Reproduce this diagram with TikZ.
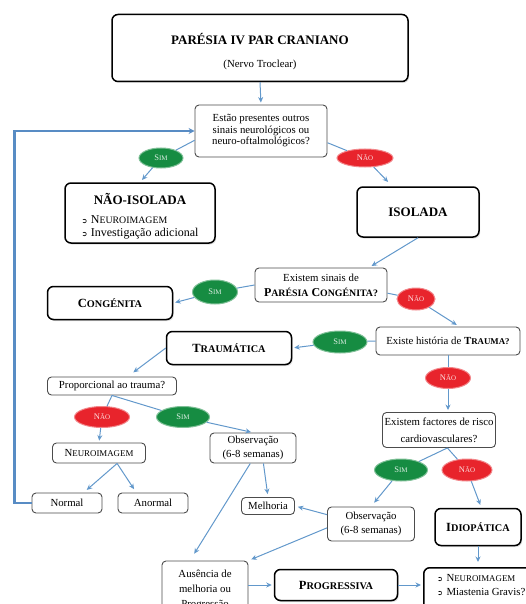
\documentclass[tikz,border=0pt]{standalone}
\usepackage{fontspec}
\setmainfont{Liberation Serif}
\newfontfamily\symfont{DejaVu Sans}
\usetikzlibrary{arrows.meta,shapes.geometric,shadows,calc}

% fake small capitals: first letter full size, the rest reduced
\makeatletter
\newcommand\fsc[2]{#1{\fontsize{\strip@pt\dimexpr0.82\dimexpr\f@size pt\relax\relax}{\the\baselineskip}\selectfont #2}}
\makeatother
\newcommand\bul{{\symfont\fontsize{7}{7}\selectfont ➲}\hspace{3.5pt}}

\definecolor{linkblue}{RGB}{98,152,203}
\definecolor{loopblue}{RGB}{88,140,196}
\definecolor{simgreen}{RGB}{22,140,66}
\definecolor{naored}{RGB}{232,36,44}

\tikzset{
  hbox/.style={draw=black, line width=1.5pt, rounded corners=6pt, fill=white,
    align=center, inner sep=0pt,
    drop shadow={opacity=0.25, shadow xshift=1.2pt, shadow yshift=-1.5pt}},
  qbox/.style={draw=black!70, line width=0.9pt, rounded corners=4pt, fill=white,
    align=center, inner sep=0pt, font=\fontsize{10.8}{14}\selectfont},
  yes/.style={ellipse, fill=simgreen, draw=simgreen!55!white, line width=1pt,
    inner sep=0pt, text=white!85!simgreen, font=\fontsize{8.5}{9}\selectfont},
  no/.style={ellipse, fill=naored, draw=naored!55!white, line width=1pt,
    inner sep=0pt, text=white!85!naored, font=\fontsize{8.5}{9}\selectfont},
  conn/.style={draw=linkblue, line width=1pt},
  arr/.style={conn, -{Stealth[length=5.5pt, width=5pt]}, shorten >=2pt},
  backloop/.style={draw=loopblue, line width=2.4pt, -{Stealth[length=6pt, width=6pt]}},
  headfont/.style={font=\fontsize{12.5}{14}\selectfont\bfseries},
}

\begin{document}
\begin{tikzpicture}[x=1pt, y=-1pt]
\useasboundingbox (0,0) rectangle (526,604);
\clip (0,0) rectangle (526,604);

% ---- boxes ----
\node[hbox, minimum width=296pt, minimum height=67pt] (top) at (260,48) {};
\node[align=center, inner sep=0pt, font=\fontsize{13}{23}\selectfont] (toptext) at (260,52)
  {\bfseries PARÉSIA IV PAR CRANIANO\\
   \fontsize{10.8}{23}\selectfont\mdseries (Nervo Troclear)};

\node[qbox, minimum width=132pt, minimum height=52pt, font=\fontsize{10.8}{11.5}\selectfont] (q1) at (261,131)
  {Estão presentes outros\\ sinais neurológicos ou\\ neuro-oftalmológicos?};

\node[hbox, minimum width=150pt, minimum height=60pt] (naoiso) at (140,213) {};
\node[inner sep=0pt, font=\fontsize{12}{13}\selectfont] (naoisotext) at (140,217)
  {\begin{tabular}{@{}l@{}}
    \multicolumn{1}{@{}c@{}}{\fontsize{13}{14}\selectfont\bfseries NÃO-ISOLADA}\\[6pt]
    \bul\fsc{N}{EUROIMAGEM}\\[0pt]
    \bul Investigação adicional
   \end{tabular}};

\node[hbox, minimum width=122pt, minimum height=50pt, font=\fontsize{13}{14}\selectfont\bfseries] (iso) at (418,212) {ISOLADA};

\node[qbox, minimum width=132pt, minimum height=34pt, font=\fontsize{10.8}{15}\selectfont] (q2) at (321,285)
  {Existem sinais de\\ {\fontsize{12}{15}\selectfont\bfseries\fsc{P}{ARÉSIA} \fsc{C}{ONGÉNITA?}}};

\node[hbox, minimum width=125pt, minimum height=33pt, headfont] (cong) at (110,303) {\fsc{C}{ONGÉNITA}};

\node[qbox, minimum width=144pt, minimum height=28pt] (q3) at (448,341)
  {Existe história de \textbf{\fsc{T}{RAUMA?}}};

\node[hbox, minimum width=125pt, minimum height=33pt, headfont] (traum) at (229,348) {\fsc{T}{RAUMÁTICA}};

\node[qbox, minimum width=129pt, minimum height=18pt] (prop) at (112,386) {Proporcional ao trauma?};

\node[qbox, minimum width=93pt, minimum height=20pt] (neuro) at (99,453) {\fsc{N}{EUROIMAGEM}};
\node[qbox, minimum width=70pt, minimum height=20pt] (normal) at (67,503) {Normal};
\node[qbox, minimum width=70pt, minimum height=20pt] (anormal) at (153,503) {Anormal};

\node[qbox, minimum width=86pt, minimum height=30pt] (obs1) at (253,448) {Observação\\(6-8 semanas)};
\node[qbox, minimum width=53pt, minimum height=17pt] (melhoria) at (268,506) {Melhoria};
\node[qbox, minimum width=87pt, minimum height=34pt] (obs2) at (371,524) {Observação\\(6-8 semanas)};

\node[qbox, minimum width=113pt, minimum height=35pt, font=\fontsize{10.8}{17}\selectfont] (q4) at (439,430)
  {Existem factores de risco\\ cardiovasculares?};

\node[hbox, minimum width=86pt, minimum height=37pt, headfont] (idio) at (478,527) {\fsc{I}{DIOPÁTICA}};

\node[qbox, minimum width=86pt, minimum height=58pt, font=\fontsize{10.8}{15}\selectfont] (ausencia) at (205,590)
  {Ausência de\\ melhoria ou\\ Progressão};

\node[hbox, minimum width=123pt, minimum height=31pt, headfont] (progr) at (336,585) {\fsc{P}{ROGRESSIVA}};

\node[hbox, anchor=north west, minimum width=115pt, align=left, inner xsep=7pt, inner ysep=7pt,
      text depth=22pt, font=\fontsize{10.8}{14}\selectfont] (final) at (423,567)
  {\bul\fsc{N}{EUROIMAGEM}\\ \bul Miastenia Gravis?};

% ---- answer ellipses ----
\node[yes, minimum width=44pt, minimum height=20pt] (sim1) at (161,158) {\fsc{S}{IM}};
\node[no,  minimum width=56pt, minimum height=18pt] (nao1) at (365,158) {\fsc{N}{ÃO}};
\node[yes, minimum width=45pt, minimum height=24pt] (sim2) at (215,292) {\fsc{S}{IM}};
\node[no,  minimum width=38pt, minimum height=22pt] (nao2) at (416,299) {\fsc{N}{ÃO}};
\node[yes, minimum width=54pt, minimum height=22pt] (sim3) at (340,342) {\fsc{S}{IM}};
\node[no,  minimum width=45pt, minimum height=21pt] (nao3) at (448,378) {\fsc{N}{ÃO}};
\node[no,  minimum width=55pt, minimum height=21pt] (nao4) at (102,417) {\fsc{N}{ÃO}};
\node[yes, minimum width=53pt, minimum height=21pt] (sim4) at (183,417) {\fsc{S}{IM}};
\node[yes, minimum width=53pt, minimum height=22pt] (sim5) at (401,470) {\fsc{S}{IM}};
\node[no,  minimum width=50pt, minimum height=22pt] (nao5) at (467,470) {\fsc{N}{ÃO}};

% ---- connectors ----
\draw[arr] (top.south) -- (q1.north);

\draw[conn] (q1.188) -- (sim1);
\draw[arr, shorten >=3pt] (sim1) -- (naoiso.north);
\draw[conn] (q1.350) -- (nao1);
\draw[arr, shorten >=6pt] (nao1) -- (iso.135);

\draw[arr, shorten >=3pt] (iso.south) -- (q2.20);
\draw[conn] (q2.west) -- (sim2);
\draw[arr] (sim2) -- (cong.east);
\draw[conn] (q2.353) -- (nao2);
\draw[arr, shorten >=3pt] (nao2) -- (q3.52);

\draw[conn] (q3.west) -- (sim3);
\draw[arr] (sim3) -- (traum.east);
\draw[arr, shorten >=7pt] (traum.west) -- (prop.31);

\draw[conn] (prop.south) -- (nao4);
\draw[arr] (nao4) -- (neuro.north);
\draw[conn] (prop.south) -- (sim4);
\draw[arr] (sim4) -- (obs1.north);

\draw[arr, shorten >=4pt] (neuro.-30) -- (normal.32);
\draw[arr, shorten >=4pt] (neuro.-30) -- (anormal.148);
\draw[backloop] (normal.west) -- ++(-17,0) |- (q1.west);

\draw[arr, shorten >=3pt] (obs1.-56) -- (melhoria.north);
\draw[arr, shorten >=8pt] (obs1.-100) -- (ausencia.117);
\draw[arr, shorten >=3pt] (obs2.168) -- (melhoria.east);
\draw[arr, shorten >=3pt] (obs2.185) -- (ausencia.north east);

\draw[conn] (q3.south -| nao3) -- (nao3);
\draw[arr] (nao3) -- (nao3 |- q4.north);
\draw[conn] (q4.-65) -- (sim5);
\draw[arr, shorten >=5pt] (sim5) -- (obs2.north);
\draw[conn] (q4.-65) -- (nao5);
\draw[arr, shorten >=3pt] (nao5) -- (idio.80);

\draw[arr, shorten >=5pt] (idio.south) -- (idio.south |- final.north);
\draw[arr] (progr.west -| ausencia.east) -- (progr.west);
\draw[arr] (progr.east) -- (progr.east -| final.west);
\end{tikzpicture}
\end{document}
